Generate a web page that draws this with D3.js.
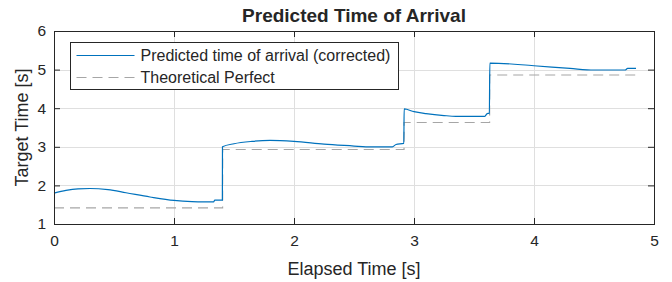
<!DOCTYPE html>
<html>
<head>
<meta charset="utf-8">
<script src="https://cdn.jsdelivr.net/npm/d3@7"></script>
<style>
  body { margin: 0; background: #fff; }
  text { font-family: "Liberation Sans", Arial, sans-serif; fill: #262626; }
</style>
</head>
<body>
<svg id="chart" width="672" height="282"></svg>
<script>
// chart values
var xTicks = [0, 1, 2, 3, 4, 5];
var yTicks = [1, 2, 3, 4, 5, 6];

var predictedT = [0, 0.1, 0.2, 0.3, 0.45, 0.6, 0.8, 1.0, 1.15, 1.25, 1.33, 1.34, 1.403,
                  1.404, 1.5, 1.65, 1.8, 2.0, 2.25, 2.5, 2.6, 2.82, 2.85, 2.915,
                  2.918, 3.0, 3.1, 3.25, 3.35, 3.59, 3.61, 3.628,
                  3.632, 4.0, 4.3, 4.5, 4.76, 4.78, 4.85];
var predictedY = [1.80, 1.87, 1.91, 1.92, 1.89, 1.81, 1.70, 1.61, 1.58, 1.575, 1.575, 1.62, 1.62,
                  3.00, 3.08, 3.14, 3.165, 3.14, 3.07, 3.02, 3.00, 3.00, 3.06, 3.09,
                  3.98, 3.91, 3.86, 3.81, 3.79, 3.79, 3.86, 3.87,
                  5.17, 5.10, 5.03, 4.99, 4.99, 5.03, 5.03];

var perfectT = [0, 1.405, 2.917, 3.63, 4.86];
var perfectY = [1.42, 2.93, 3.63, 4.86, 4.86];

var seriesNames = ["Predicted time of arrival (corrected)", "Theoretical Perfect"];

var svg = d3.select("#chart"),
    margin = {top: 31, right: 18, bottom: 58, left: 54},
    width = +svg.attr("width") - margin.left - margin.right,
    height = +svg.attr("height") - margin.top - margin.bottom;

var x = d3.scaleLinear().domain([0, 5]).range([0, width]),
    y = d3.scaleLinear().domain([1, 6]).range([height, 0]);

var g = svg.append("g")
    .attr("transform", "translate(" + margin.left + "," + margin.top + ")");

// grid
g.append("g")
    .attr("class", "grid")
    .selectAll("line.gx")
    .data(xTicks.slice(1, -1))
    .enter().append("line")
        .attr("x1", function(d) { return Math.round(x(d)) + 0.5; })
        .attr("x2", function(d) { return Math.round(x(d)) + 0.5; })
        .attr("y1", 0).attr("y2", height)
        .attr("stroke", "#dfdfdf");
g.append("g")
    .attr("class", "grid")
    .selectAll("line.gy")
    .data(yTicks.slice(1, -1))
    .enter().append("line")
        .attr("y1", function(d) { return Math.round(y(d)) + 0.5; })
        .attr("y2", function(d) { return Math.round(y(d)) + 0.5; })
        .attr("x1", 0).attr("x2", width)
        .attr("stroke", "#dfdfdf");

var predicted = predictedT.map(function(t, i) { return [t, predictedY[i]]; });
var perfect = perfectT.map(function(t, i) { return [t, perfectY[i]]; });

var perfectLine = d3.line()
    .x(function(d) { return x(d[0]); })
    .y(function(d) { return y(d[1]); })
    .curve(d3.curveStepAfter);

var predictedLine = d3.line()
    .x(function(d) { return x(d[0]); })
    .y(function(d) { return y(d[1]); })
    .curve(d3.curveMonotoneX);

g.append("path")
    .datum(perfect)
    .attr("fill", "none")
    .attr("stroke", "#a6a6a6")
    .attr("stroke-width", 1.2)
    .attr("stroke-dasharray", "10,6")
    .attr("d", perfectLine);

g.append("path")
    .datum(predicted)
    .attr("fill", "none")
    .attr("stroke", "#0072bd")
    .attr("stroke-width", 1.2)
    .attr("d", predictedLine);

// axes, ticks inward on all four sides
function styleAxis(sel) {
    sel.select(".domain").remove();
    sel.selectAll("line").attr("stroke", "#262626");
    sel.selectAll("text")
        .style("font-size", "15.5px")
        .attr("fill", "#262626");
}

g.append("g")
    .attr("transform", "translate(0," + height + ")")
    .call(d3.axisBottom(x).tickValues(xTicks).tickFormat(d3.format("d")).tickSize(-6).tickPadding(11))
    .call(styleAxis);
g.append("g")
    .call(d3.axisTop(x).tickValues(xTicks).tickFormat("").tickSize(-6))
    .call(styleAxis);
g.append("g")
    .call(d3.axisLeft(y).tickValues(yTicks).tickFormat(d3.format("d")).tickSize(-6).tickPadding(8))
    .call(styleAxis);
g.append("g")
    .attr("transform", "translate(" + width + ",0)")
    .call(d3.axisRight(y).tickValues(yTicks).tickFormat("").tickSize(-6))
    .call(styleAxis);

g.append("rect")
    .attr("x", 0.5).attr("y", 0.5)
    .attr("width", width).attr("height", height)
    .attr("fill", "none")
    .attr("stroke", "#262626")
    .attr("stroke-width", 1);

// titles
svg.append("text")
    .attr("x", margin.left + width / 2)
    .attr("y", 22)
    .attr("text-anchor", "middle")
    .style("font-size", "19px")
    .style("font-weight", "bold")
    .attr("fill", "#000")
    .text("Predicted Time of Arrival");

svg.append("text")
    .attr("x", margin.left + width / 2)
    .attr("y", 275)
    .attr("text-anchor", "middle")
    .style("font-size", "18px")
    .text("Elapsed Time [s]");

svg.append("text")
    .attr("transform", "translate(28," + (margin.top + height / 2) + ") rotate(-90)")
    .attr("text-anchor", "middle")
    .style("font-size", "18px")
    .text("Target Time [s]");

// legend
var legend = svg.append("g").attr("transform", "translate(70.5,42.5)");
legend.append("rect")
    .attr("width", 328).attr("height", 47)
    .attr("fill", "#fff")
    .attr("stroke", "#262626");

var rows = legend.selectAll("g.row")
    .data(seriesNames)
    .enter().append("g")
        .attr("class", "row")
        .attr("transform", function(d, i) { return "translate(0," + (13 + i * 22) + ")"; });

rows.append("line")
    .attr("x1", 6).attr("x2", 64)
    .attr("stroke", function(d, i) { return i ? "#a6a6a6" : "#0072bd"; })
    .attr("stroke-width", 1.2)
    .attr("stroke-dasharray", function(d, i) { return i ? "10,6" : null; });

rows.append("text")
    .attr("x", 70)
    .attr("dy", "0.36em")
    .style("font-size", "16px")
    .attr("fill", "#000")
    .text(function(d) { return d; });
</script>
</body>
</html>
